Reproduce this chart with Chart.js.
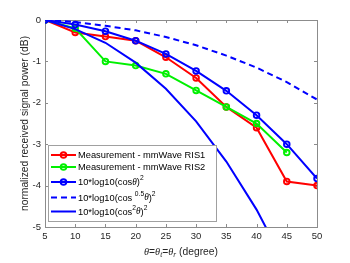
<!DOCTYPE html>
<html>
<head>
<meta charset="utf-8">
<script src="https://cdn.jsdelivr.net/npm/chart.js@4.4.0/dist/chart.umd.min.js"></script>
<style>
  html, body { margin: 0; padding: 0; background: #fff; }
</style>
</head>
<body>
<canvas id="graficoRIS" width="350" height="263"></canvas>
<script>
// datos
const angulos = [5, 10, 15, 20, 25, 30, 35, 40, 45, 50];
const ris1 = [0, -0.3, -0.4, -0.5, -0.9, -1.4, -2.1, -2.6, -3.9, -4.0];
const ris2 = [0, -0.2, -1.0, -1.1, -1.3, -1.7, -2.1, -2.5, -3.2, null];
const modeloCos = [0, -0.11, -0.27, -0.5, -0.82, -1.23, -1.71, -2.3, -3.0, -3.83];
const modeloCos05 = [0, -0.05, -0.14, -0.25, -0.41, -0.61, -0.86, -1.15, -1.5, -1.92];
const modeloCos2 = [0, -0.22, -0.55, -1.03, -1.66, -2.45, -3.42, -4.58, -5.97, -7.6];
const ticksX = [5, 10, 15, 20, 25, 30, 35, 40, 45, 50];
const ticksY = [0, -1, -2, -3, -4, -5];

const FUENTE = '"Liberation Sans", Arial, sans-serif';
const SERIF = '"Liberation Serif", "Times New Roman", serif';

// textos de la leyenda (con super/subindices)
const leyenda = [
  [{ t: 'Measurement - mmWave RIS1' }],
  [{ t: 'Measurement - mmWave RIS2' }],
  [{ t: '10*log10(cos' }, { t: 'θ', it: true }, { t: ')' }, { t: '2', sup: true }],
  [{ t: '10*log10(cos ' }, { t: '0.5', sup: true }, { t: 'θ', it: true }, { t: ')' }, { t: '2', sup: true }],
  [{ t: '10*log10(cos' }, { t: '2', sup: true }, { t: 'θ', it: true }, { t: ')' }, { t: '2', sup: true }]
];
const tituloX = [
  { t: 'θ', it: true }, { t: '=' }, { t: 'θ', it: true }, { t: 't', it: true, sub: true },
  { t: '=' }, { t: 'θ', it: true }, { t: 'r', it: true, sub: true }, { t: ' (degree)' }
];

function fuente(p, size) {
  const s = (p.sup || p.sub) ? size * 0.72 : size;
  return p.it ? 'italic ' + s + 'px ' + SERIF : s + 'px ' + FUENTE;
}

function anchoRico(ctx, partes, size) {
  let w = 0;
  for (const p of partes) { ctx.font = fuente(p, size); w += ctx.measureText(p.t).width; }
  return w;
}

function textoRico(ctx, partes, x, y, size) {
  for (const p of partes) {
    ctx.font = fuente(p, size);
    const dy = p.sup ? -size * 0.45 : (p.sub ? size * 0.32 : 0);
    ctx.fillText(p.t, x, y + dy);
    x += ctx.measureText(p.t).width;
  }
}

// marco con ticks hacia adentro (estilo matlab)
const marco = {
  id: 'marco',
  beforeDatasetsDraw(chart) {
    const { ctx, chartArea: a, scales: { x, y } } = chart;
    ctx.save();
    ctx.strokeStyle = '#8c8c8c';
    ctx.lineWidth = 1;
    ctx.strokeRect(Math.round(a.left) + 0.5, Math.round(a.top) + 0.5,
      Math.round(a.right - a.left), Math.round(a.bottom - a.top));
    ctx.beginPath();
    for (const v of ticksX) {
      const px = Math.round(x.getPixelForValue(v)) + 0.5;
      ctx.moveTo(px, a.bottom); ctx.lineTo(px, a.bottom - 3);
      ctx.moveTo(px, a.top); ctx.lineTo(px, a.top + 3);
    }
    for (const v of ticksY) {
      const py = Math.round(y.getPixelForValue(v)) + 0.5;
      ctx.moveTo(a.left, py); ctx.lineTo(a.left + 3, py);
      ctx.moveTo(a.right, py); ctx.lineTo(a.right - 3, py);
    }
    ctx.stroke();
    ctx.restore();
  },
  afterDraw(chart) {
    const { ctx, chartArea: a } = chart;
    ctx.save();
    // titulo eje x
    ctx.fillStyle = '#262626';
    ctx.textBaseline = 'middle';
    const tam = 10.3;
    const w = anchoRico(ctx, tituloX, tam);
    textoRico(ctx, tituloX, (a.left + a.right) / 2 - w / 2, a.bottom + 25, tam);

    // leyenda
    const L = a.left + 3, R = a.left + 171, T = a.top + 125, B = a.bottom - 6;
    ctx.fillStyle = '#fff';
    ctx.fillRect(L, T, R - L, B - T);
    ctx.strokeStyle = '#a0a0a0';
    ctx.lineWidth = 1;
    ctx.strokeRect(L + 0.5, T + 0.5, R - L, B - T);
    const filas = [T + 10, T + 22, T + 37, T + 52.5, T + 66.5];
    chart.data.datasets.forEach((ds, i) => {
      const yy = filas[i];
      ctx.strokeStyle = ds.borderColor;
      ctx.lineWidth = ds.borderWidth;
      ctx.setLineDash(ds.borderDash || []);
      ctx.beginPath();
      ctx.moveTo(L + 3, yy); ctx.lineTo(L + 28, yy);
      ctx.stroke();
      ctx.setLineDash([]);
      if (ds.pointRadius > 0) {
        ctx.lineWidth = ds.pointBorderWidth;
        ctx.beginPath();
        ctx.arc(L + 15.5, yy, ds.pointRadius, 0, Math.PI * 2);
        ctx.stroke();
      }
      ctx.fillStyle = '#000';
      textoRico(ctx, leyenda[i], L + 30, yy + 0.5, 9.3);
    });
    ctx.restore();
  }
};

const serie = (label, data, color, extra) => Object.assign({
  label, data, borderColor: color, backgroundColor: color,
  borderWidth: 2, pointRadius: 2.8, pointBorderWidth: 1.9,
  pointBackgroundColor: 'rgba(0,0,0,0)', pointBorderColor: color,
  spanGaps: false, tension: 0
}, extra);

const ctx = document.getElementById('graficoRIS').getContext('2d');
const grafico = new Chart(ctx, {
  type: 'line',
  data: {
    labels: angulos,
    datasets: [
      serie('Measurement - mmWave RIS1', ris1, '#ff0000', { order: 5 }),
      serie('Measurement - mmWave RIS2', ris2, '#00f000', { order: 4 }),
      serie('10*log10(cos θ)^2', modeloCos, '#0000ff', { order: 3 }),
      serie('10*log10(cos^0.5 θ)^2', modeloCos05, '#0000ff', { order: 2, pointRadius: 0, borderDash: [6, 4] }),
      serie('10*log10(cos^2 θ)^2', modeloCos2, '#0000ff', { order: 1, pointRadius: 0 })
    ].map(ds => Object.assign(ds, { data: ds.data.map((v, i) => ({ x: angulos[i], y: v })) }))
  },
  options: {
    responsive: false,
    animation: false,
    layout: { padding: { top: 20, right: 33, left: 0, bottom: 0 } },
    plugins: { legend: { display: false }, tooltip: { enabled: false } },
    scales: {
      x: {
        type: 'linear', min: 5, max: 50,
        afterFit: s => { s.height = 36; },
        afterBuildTicks: s => { s.ticks = ticksX.map(v => ({ value: v })); },
        grid: { display: false, drawTicks: false },
        border: { display: false },
        ticks: { color: '#262626', padding: 4, font: { size: 9.5, family: FUENTE } }
      },
      y: {
        min: -5, max: 0,
        afterFit: s => { s.width = 45; },
        afterBuildTicks: s => { s.ticks = ticksY.map(v => ({ value: v })); },
        grid: { display: false, drawTicks: false },
        border: { display: false },
        ticks: { color: '#262626', padding: 4, font: { size: 9.5, family: FUENTE } },
        title: {
          display: true, text: 'normalized received signal power (dB)', color: '#262626',
          padding: { top: 19, bottom: 0 }, font: { size: 10.3, family: FUENTE }
        }
      }
    }
  },
  plugins: [marco]
});
</script>
</body>
</html>
